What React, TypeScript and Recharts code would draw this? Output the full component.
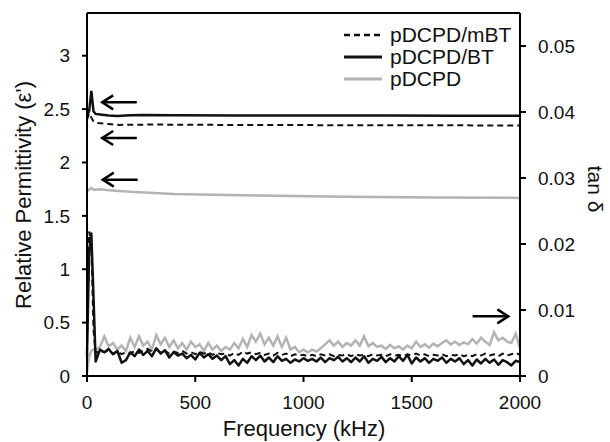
import React from 'react';
import { LineChart, Line, XAxis, YAxis, ReferenceLine, Legend } from 'recharts';

const FONT = '"Liberation Sans", Arial, Helvetica, sans-serif';

// frequency grid (kHz) shared by the tan delta curves
const freqKHz = [
  0, 10, 20, 30,
  40, 60, 80, 100, 120, 140, 160, 180, 200, 220,
  240, 260, 280, 300, 320, 340, 360, 380, 400, 420,
  440, 460, 480, 500, 520, 540, 560, 580, 600, 620,
  640, 660, 680, 700, 720, 740, 760, 780, 800, 820,
  840, 860, 880, 900, 920, 940, 960, 980, 1000, 1020,
  1040, 1060, 1080, 1100, 1120, 1140, 1160, 1180, 1200, 1220,
  1240, 1260, 1280, 1300, 1320, 1340, 1360, 1380, 1400, 1420,
  1440, 1460, 1480, 1500, 1520, 1540, 1560, 1580, 1600, 1620,
  1640, 1660, 1680, 1700, 1720, 1740, 1760, 1780, 1800, 1820,
  1840, 1860, 1880, 1900, 1920, 1940, 1960, 1980, 2000,
];

// tan delta, pDCPD/mBT (dashed)
const tanMBT = [
  0.0050, 0.0219, 0.0200, 0.0070,
  0.0035, 0.0038, 0.0036, 0.0039, 0.0034, 0.0037, 0.0033, 0.0036, 0.0034, 0.0038,
  0.0035, 0.0039, 0.0041, 0.0037, 0.0040, 0.0036, 0.0038, 0.0034, 0.0037, 0.0035,
  0.0038, 0.0034, 0.0036, 0.0033, 0.0037, 0.0034, 0.0036, 0.0032, 0.0035, 0.0033,
  0.0034, 0.0031, 0.0035, 0.0032, 0.0037, 0.0034, 0.0036, 0.0033, 0.0035, 0.0032,
  0.0034, 0.0031, 0.0035, 0.0032, 0.0034, 0.0030, 0.0033, 0.0031, 0.0032, 0.0030,
  0.0032, 0.0030, 0.0033, 0.0031, 0.0033, 0.0030, 0.0032, 0.0031, 0.0033, 0.0030,
  0.0033, 0.0031, 0.0032, 0.0030, 0.0033, 0.0031, 0.0032, 0.0030, 0.0033, 0.0031,
  0.0032, 0.0030, 0.0033, 0.0031, 0.0034, 0.0031, 0.0033, 0.0030, 0.0032, 0.0031,
  0.0033, 0.0030, 0.0032, 0.0031, 0.0033, 0.0030, 0.0032, 0.0030, 0.0033, 0.0031,
  0.0034, 0.0031, 0.0033, 0.0030, 0.0034, 0.0031, 0.0033, 0.0035, 0.0032,
];

// tan delta, pDCPD/BT (solid)
const tanBT = [
  0.0030, 0.0190, 0.0216, 0.0120,
  0.0022, 0.0040, 0.0036, 0.0041, 0.0033, 0.0038, 0.0020, 0.0024, 0.0036, 0.0030,
  0.0040, 0.0032, 0.0038, 0.0030, 0.0042, 0.0034, 0.0039, 0.0028, 0.0036, 0.0031,
  0.0034, 0.0027, 0.0032, 0.0025, 0.0035, 0.0028, 0.0033, 0.0026, 0.0031, 0.0024,
  0.0030, 0.0018, 0.0024, 0.0016, 0.0026, 0.0020, 0.0030, 0.0024, 0.0031, 0.0022,
  0.0028, 0.0021, 0.0030, 0.0023, 0.0026, 0.0020, 0.0025, 0.0022, 0.0027, 0.0023,
  0.0026, 0.0022, 0.0028, 0.0021, 0.0027, 0.0024, 0.0029, 0.0022, 0.0027, 0.0021,
  0.0028, 0.0022, 0.0030, 0.0020, 0.0026, 0.0023, 0.0029, 0.0021, 0.0027, 0.0022,
  0.0030, 0.0023, 0.0032, 0.0019, 0.0028, 0.0022, 0.0027, 0.0020, 0.0026, 0.0023,
  0.0028, 0.0020, 0.0026, 0.0022, 0.0027, 0.0018, 0.0024, 0.0016, 0.0025, 0.0019,
  0.0026, 0.0020, 0.0025, 0.0017, 0.0024, 0.0021, 0.0016, 0.0023, 0.0021,
];

// tan delta, pDCPD (grey)
const tanNeat = [
  0.0005, 0.0030, 0.0038, 0.0040,
  0.0040, 0.0044, 0.0060, 0.0045, 0.0050, 0.0040, 0.0046, 0.0038, 0.0058, 0.0044,
  0.0060, 0.0046, 0.0052, 0.0040, 0.0062, 0.0048, 0.0058, 0.0044, 0.0054, 0.0042,
  0.0050, 0.0040, 0.0052, 0.0044, 0.0048, 0.0038, 0.0050, 0.0040, 0.0046, 0.0038,
  0.0044, 0.0040, 0.0050, 0.0042, 0.0056, 0.0044, 0.0062, 0.0052, 0.0064, 0.0048,
  0.0058, 0.0046, 0.0060, 0.0044, 0.0058, 0.0040, 0.0044, 0.0036, 0.0040, 0.0036,
  0.0040, 0.0037, 0.0042, 0.0048, 0.0054, 0.0046, 0.0052, 0.0044, 0.0050, 0.0046,
  0.0054, 0.0046, 0.0060, 0.0045, 0.0050, 0.0044, 0.0046, 0.0041, 0.0047, 0.0042,
  0.0045, 0.0040, 0.0046, 0.0042, 0.0052, 0.0044, 0.0048, 0.0043, 0.0049, 0.0045,
  0.0050, 0.0054, 0.0048, 0.0052, 0.0047, 0.0051, 0.0048, 0.0056, 0.0049, 0.0058,
  0.0052, 0.0047, 0.0066, 0.0054, 0.0058, 0.0052, 0.0050, 0.0064, 0.0042,
];

// relative permittivity curves (left axis)
const permBTFreq = [0, 10, 20, 30, 40, 60, 100, 140, 200, 260, 400, 700, 1000, 1400, 1700, 2000];
const permBT = [2.44, 2.48, 2.67, 2.48, 2.455, 2.45, 2.44, 2.435, 2.442, 2.445, 2.443, 2.441, 2.44, 2.439, 2.438, 2.438];

const permMBTFreq = [0, 10, 20, 30, 50, 100, 150, 300, 600, 1000, 1500, 2000];
const permMBT = [2.4, 2.46, 2.42, 2.385, 2.37, 2.36, 2.352, 2.355, 2.352, 2.35, 2.348, 2.347];

const permNeatFreq = [0, 20, 30, 60, 100, 200, 400, 800, 1200, 1600, 2000];
const permNeat = [1.73, 1.76, 1.745, 1.75, 1.74, 1.725, 1.705, 1.69, 1.68, 1.673, 1.668];

const xTicks = [0, 500, 1000, 1500, 2000];
const leftTicks = [0, 0.5, 1, 1.5, 2, 2.5, 3];
const rightTicks = [0, 0.01, 0.02, 0.03, 0.04, 0.05];

const series = [
  { name: 'pDCPD/mBT', color: '#111', dash: '6 4', width: 2 },
  { name: 'pDCPD/BT', color: '#111', dash: undefined, width: 2.5 },
  { name: 'pDCPD', color: '#b3b3b3', dash: undefined, width: 2.5 },
];

const tanData = freqKHz.map((f, i) => ({ f, mbt: tanMBT[i], bt: tanBT[i], neat: tanNeat[i] }));
const toPoints = (fs: number[], vs: number[]) => fs.map((f, i) => ({ f, v: vs[i] }));
const permBTData = toPoints(permBTFreq, permBT);
const permMBTData = toPoints(permMBTFreq, permMBT);
const permNeatData = toPoints(permNeatFreq, permNeat);

// arrow annotations: head first, then tail
const leftArrows = [
  { y: 2.563, head: 70, tail: 230 },
  { y: 2.229, head: 70, tail: 230 },
  { y: 1.839, head: 73, tail: 234 },
];
const rightArrow = { y: 0.00904, head: 1946, tail: 1781 };

const Arrow = (props: any) => {
  const { x1, y1, x2, y2 } = props;
  const dir = x2 > x1 ? 1 : -1;
  return (
    <g>
      <line x1={x1} y1={y1} x2={x2} y2={y2} stroke="#000" strokeWidth={2.5} />
      <polyline
        points={`${x1 + dir * 11},${y1 - 7} ${x1},${y1} ${x1 + dir * 11},${y1 + 7}`}
        fill="none"
        stroke="#000"
        strokeWidth={2.5}
      />
    </g>
  );
};

const LegendBox = () => (
  <svg width={200} height={70}>
    {series.map((s, i) => (
      <g key={s.name}>
        <line
          x1={4}
          x2={42}
          y1={13 + i * 22}
          y2={13 + i * 22}
          stroke={s.color}
          strokeWidth={s.width + 0.5}
          strokeDasharray={s.dash}
        />
        <text x={50} y={13 + i * 22} dy="0.35em" fontSize={21} fill="#111" fontFamily={FONT}>
          {s.name}
        </text>
      </g>
    ))}
  </svg>
);

const axisStyle = { stroke: '#000', strokeWidth: 2 };
const tickStyle = { fill: '#111', fontSize: 19, fontFamily: FONT };

export default function App() {
  return (
    <div style={{ position: 'absolute', left: 0, top: 0, width: 610, height: 442, background: '#fff' }}>
      <LineChart width={610} height={442} margin={{ top: 13, right: 30, bottom: 26, left: 27 }}>
        <XAxis
          type="number"
          dataKey="f"
          domain={[0, 2000]}
          ticks={xTicks}
          height={40}
          axisLine={axisStyle}
          tickLine={axisStyle}
          tickSize={6}
          tickMargin={14}
          tick={tickStyle}
          allowDuplicatedCategory={false}
        />
        <YAxis
          yAxisId="left"
          orientation="left"
          domain={[0, 3.4]}
          ticks={leftTicks}
          width={60}
          axisLine={axisStyle}
          tickLine={axisStyle}
          tickSize={5}
          tickMargin={12}
          tick={tickStyle}
        />
        <YAxis
          yAxisId="right"
          orientation="right"
          domain={[0, 0.055]}
          ticks={rightTicks}
          width={60}
          axisLine={axisStyle}
          tickLine={axisStyle}
          tickSize={6}
          tickMargin={12}
          tick={tickStyle}
        />
        <ReferenceLine yAxisId="left" y={3.4} stroke="#000" strokeWidth={2} />
        <Legend
          verticalAlign="middle"
          align="center"
          layout="vertical"
          content={<LegendBox />}
          wrapperStyle={{ position: 'absolute', left: 340, top: 22, width: 200, height: 70 }}
        />

        <Line yAxisId="left" data={permNeatData} dataKey="v" stroke={series[2].color} strokeWidth={2.5} dot={false} isAnimationActive={false} legendType="none" />
        <Line yAxisId="left" data={permMBTData} dataKey="v" stroke={series[0].color} strokeWidth={2} strokeDasharray="6 4" dot={false} isAnimationActive={false} legendType="none" />
        <Line yAxisId="left" data={permBTData} dataKey="v" stroke={series[1].color} strokeWidth={2.5} dot={false} isAnimationActive={false} legendType="none" />

        <Line yAxisId="right" data={tanData} dataKey="neat" stroke={series[2].color} strokeWidth={2.5} dot={false} isAnimationActive={false} legendType="none" />
        <Line yAxisId="right" data={tanData} dataKey="mbt" stroke={series[0].color} strokeWidth={2} strokeDasharray="6 4" dot={false} isAnimationActive={false} legendType="none" />
        <Line yAxisId="right" data={tanData} dataKey="bt" stroke={series[1].color} strokeWidth={2.5} strokeLinejoin="round" dot={false} isAnimationActive={false} legendType="none" />

        {leftArrows.map((a, i) => (
          <ReferenceLine
            key={i}
            yAxisId="left"
            segment={[{ x: a.head, y: a.y }, { x: a.tail, y: a.y }]}
            shape={<Arrow />}
          />
        ))}
        <ReferenceLine
          yAxisId="right"
          segment={[{ x: rightArrow.head, y: rightArrow.y }, { x: rightArrow.tail, y: rightArrow.y }]}
          shape={<Arrow />}
        />
      </LineChart>
      <svg width={610} height={442} style={{ position: 'absolute', left: 0, top: 0, pointerEvents: 'none' }}>
        <text x={304} y={436} textAnchor="middle" fontSize={22} fill="#111" fontFamily={FONT}>
          Frequency (kHz)
        </text>
        <text transform="translate(31,195) rotate(-90)" textAnchor="middle" fontSize={22} fill="#111" fontFamily={FONT}>
          Relative Permittivity (ε')
        </text>
        <text transform="translate(588,189) rotate(90)" textAnchor="middle" fontSize={21} fill="#111" fontFamily={FONT}>
          tan δ
        </text>
      </svg>
    </div>
  );
}
